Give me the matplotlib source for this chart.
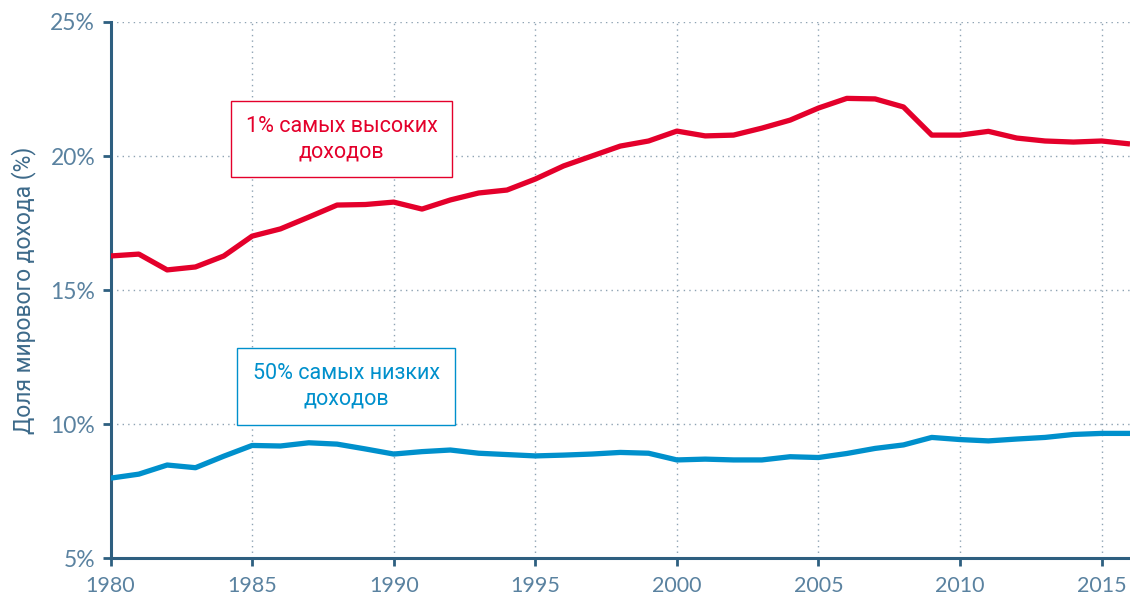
import numpy as np
import matplotlib
matplotlib.use("Agg")
import matplotlib.pyplot as plt

years = list(range(1980, 2017))
top1 = [16.27, 16.34, 15.75, 15.86, 16.27, 17.01, 17.28, 17.72, 18.17, 18.19,
        18.28, 18.02, 18.36, 18.62, 18.73, 19.14, 19.63, 20.00, 20.37, 20.56,
        20.93, 20.75, 20.78, 21.04, 21.34, 21.79, 22.15, 22.13, 21.83, 20.78,
        20.78, 20.92, 20.67, 20.56, 20.52, 20.56, 20.45]
bottom50 = [7.98, 8.13, 8.47, 8.37, 8.80, 9.20, 9.18, 9.30, 9.25, 9.07,
            8.88, 8.97, 9.03, 8.91, 8.86, 8.81, 8.84, 8.88, 8.94, 8.91,
            8.66, 8.69, 8.66, 8.66, 8.78, 8.75, 8.90, 9.09, 9.22, 9.50,
            9.42, 9.37, 9.44, 9.50, 9.61, 9.65, 9.65]
xticks = [1980, 1985, 1990, 1995, 2000, 2005, 2010, 2015]
yticks = [5, 10, 15, 20, 25]
label_top = "1% самых высоких\nдоходов"
label_bottom = "50% самых низких\nдоходов"
ylabel = "Доля мирового дохода (%)"

red = "#e4002b"
blue = "#0090cc"
axis_col = "#2e5f80"
tick_col = "#5a82a0"

fig = plt.figure(figsize=(11.3, 6.01), dpi=100)
ax = fig.add_axes([0.0978, 0.0715, 0.9022, 0.8919])

ax.plot(years, top1, color=red, lw=3.8, solid_capstyle="butt", zorder=3)
ax.plot(years, bottom50, color=blue, lw=3.8, solid_capstyle="butt", zorder=3)

ax.set_xlim(1980, 2016)
ax.set_ylim(5, 25)
ax.set_xticks(xticks)
ax.set_yticks(yticks)
ax.set_yticklabels([f"{v}%" for v in yticks])

ax.grid(True, color="#8ea3b3", linestyle=(0, (1, 3)), lw=1.0)
ax.set_axisbelow(True)

for s in ["top", "right"]:
    ax.spines[s].set_visible(False)
ax.spines["left"].set_color(axis_col)
ax.spines["left"].set_linewidth(2.2)
ax.spines["bottom"].set_color(axis_col)
ax.spines["bottom"].set_linewidth(2.2)

ax.tick_params(axis="both", direction="out", length=6, width=2, color=axis_col,
               labelcolor=tick_col)
for lab in ax.get_xticklabels():
    lab.set_fontfamily("Lato")
    lab.set_fontsize(15.5)
for lab in ax.get_yticklabels():
    lab.set_fontfamily("Lato")
    lab.set_fontsize(16.5)
ax.tick_params(axis="x", pad=7)
ax.tick_params(axis="y", pad=5)

ax.set_ylabel(ylabel, family="Roboto", fontsize=16.5, color="#3d6a8a", labelpad=10)

ax.text(0.2266, 0.7817, label_top, transform=ax.transAxes, ha="center", va="center",
        family="Roboto", fontsize=15.5, color=red, linespacing=1.25, zorder=4,
        bbox=dict(boxstyle="square,pad=0.7", fc="white", ec=red, lw=1.0))
ax.text(0.231, 0.32, label_bottom, transform=ax.transAxes, ha="center", va="center",
        family="Roboto", fontsize=15.5, color=blue, linespacing=1.25, zorder=4,
        bbox=dict(boxstyle="square,pad=0.7", fc="white", ec=blue, lw=1.0))

fig.savefig("out.png", dpi=100)
